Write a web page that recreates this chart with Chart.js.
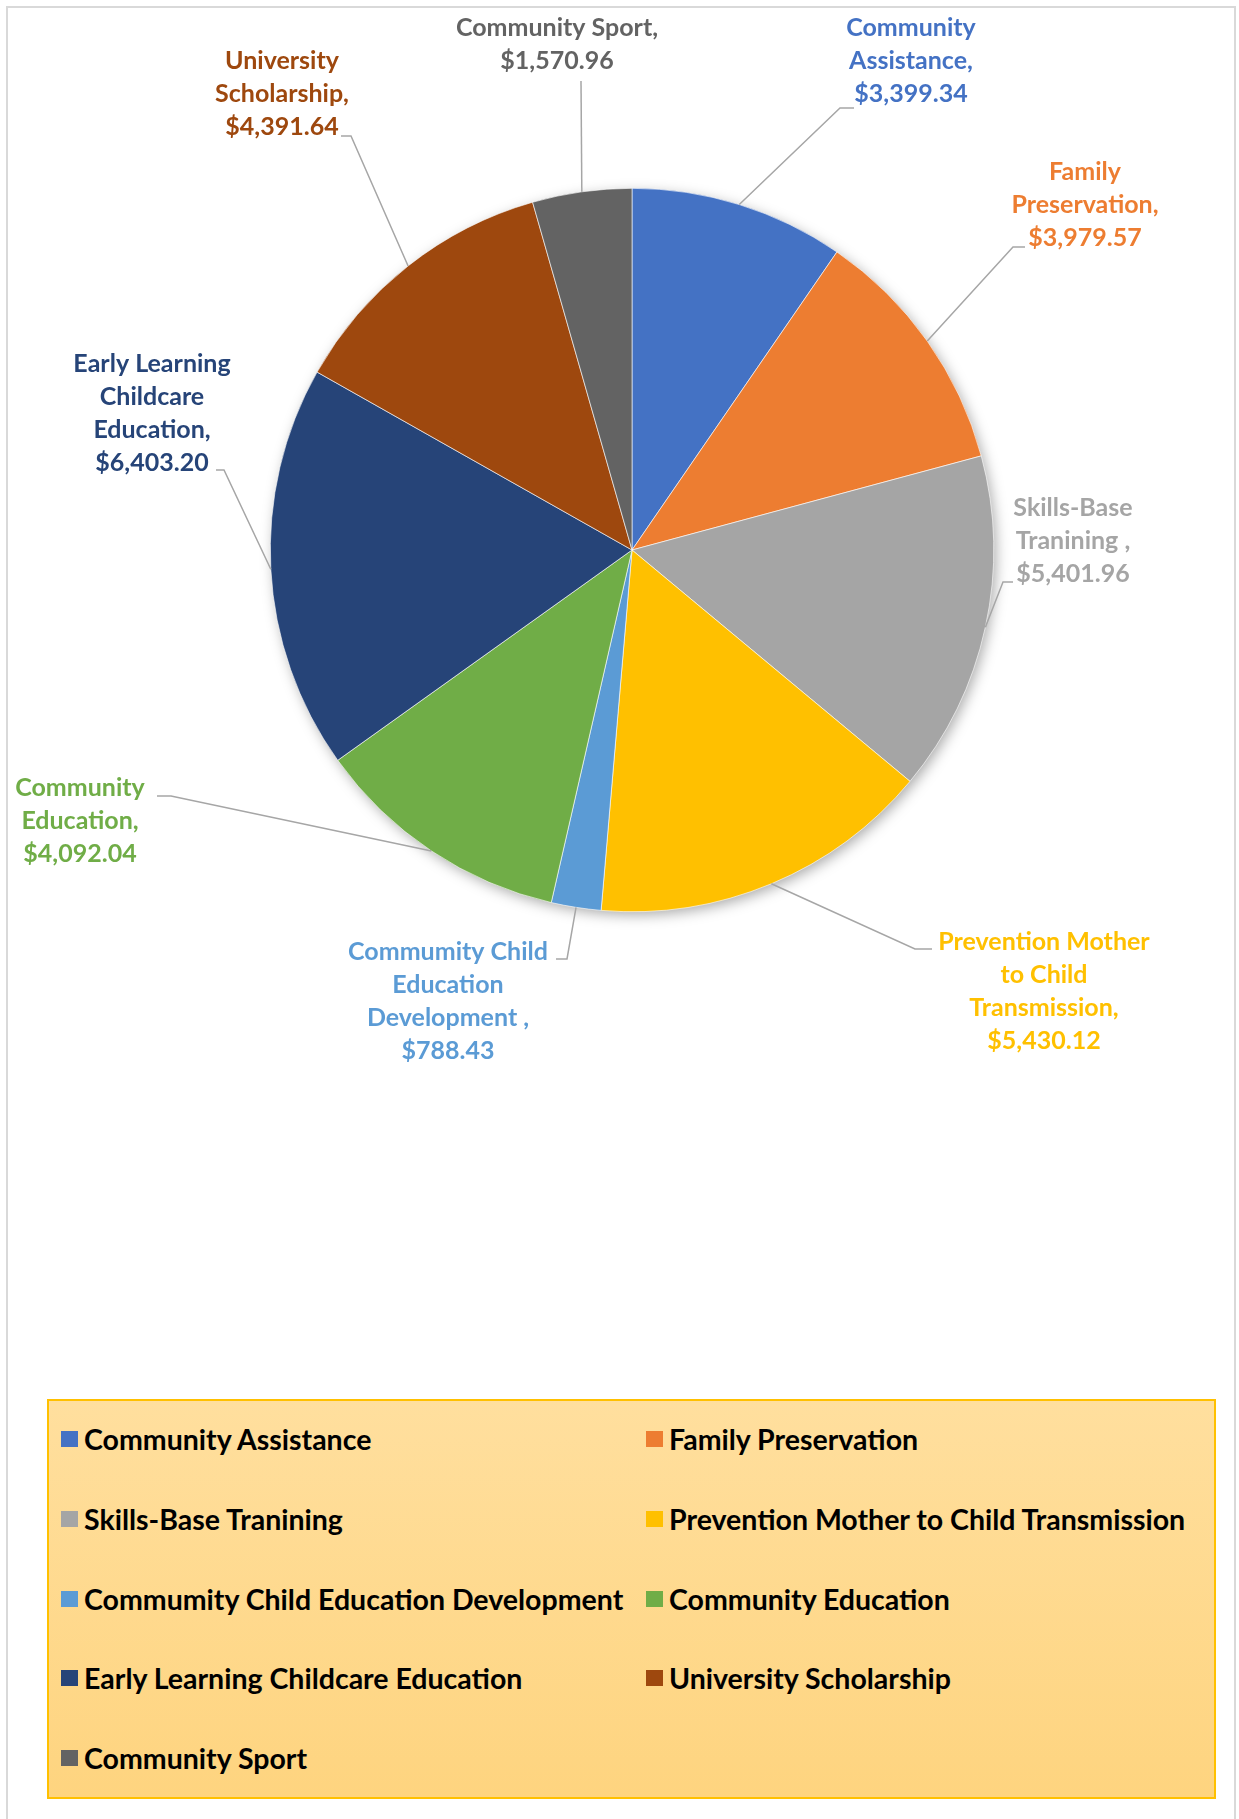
<!DOCTYPE html>
<html>
<head>
<meta charset="utf-8">
<script src="https://cdn.jsdelivr.net/npm/chart.js@4.4.1/dist/chart.umd.min.js"></script>
<style>
  html, body { margin: 0; padding: 0; background: #fff; }
  body { width: 1239px; height: 1819px; position: relative; overflow: hidden; font-family: Lato, 'Noto Sans', sans-serif; }
  #frame { position: absolute; left: 6px; top: 6px; width: 1230px; height: 1840px; border: 2px solid #d9d9d9; box-sizing: border-box; }
  #wrap { position: absolute; left: 0; top: 0; width: 1239px; height: 1100px; }
  #legend {
    position: absolute; left: 47px; top: 1399px; width: 1169px; height: 400px; box-sizing: border-box;
    border: 2px solid #ffc000; background: linear-gradient(#ffdf9e, #fed47f);
  }
  .item { position: absolute; height: 34px; display: flex; align-items: center; font-weight: 700; font-size: 28.5px; color: #000; white-space: nowrap; }
  .item span.box { width: 17px; height: 16px; margin-right: 6px; flex: none; }
</style>
</head>
<body>
<div id="frame"></div>
<div id="wrap"><canvas id="pie" width="1239" height="1100"></canvas></div>
<div id="legend"></div>
<script>
// data
const categories = [
    'Community Assistance',
    'Family Preservation',
    'Skills-Base Tranining',
    'Prevention Mother to Child Transmission',
    'Commumity Child Education Development',
    'Community Education',
    'Early Learning Childcare Education',
    'University Scholarship',
    'Community Sport'
];
const amounts = [3399.34, 3979.57, 5401.96, 5430.12, 788.43, 4092.04, 6403.20, 4391.64, 1570.96];
const sliceColors = ['#4472c4', '#ed7d31', '#a5a5a5', '#ffc000', '#5b9bd5', '#70ad47', '#264478', '#9e480e', '#636363'];

// how the category names wrap in the data labels
const labelWraps = [
    ['Community', 'Assistance,'],
    ['Family', 'Preservation,'],
    ['Skills-Base', 'Tranining ,'],
    ['Prevention Mother', 'to Child', 'Transmission,'],
    ['Commumity Child', 'Education', 'Development ,'],
    ['Community', 'Education,'],
    ['Early Learning', 'Childcare', 'Education,'],
    ['University', 'Scholarship,'],
    ['Community Sport,']
];

// label placement relative to the pie centre (px): text centre / first line, leader elbow, stub end
const labelLayout = [
    { tx: 279, ty: -522, ex: 208, ey: -442, sx: 222 },
    { tx: 453, ty: -378, ex: 381, ey: -303, sx: 393 },
    { tx: 441, ty: -42, ex: 371, ey: 32, sx: 381 },
    { tx: 412, ty: 392, ex: 283, ey: 399, sx: 300 },
    { tx: -184, ty: 402, ex: -65, ey: 409, sx: -76 },
    { tx: -552, ty: 238, ex: -461, ey: 246, sx: -475 },
    { tx: -480, ty: -186, ex: -408, ey: -80, sx: -416 },
    { tx: -350, ty: -489, ex: -281, ey: -414, sx: -291 },
    { tx: -75, ty: -522, ex: -51, ey: -469, sx: -51 }
];

const money = v => '$' + v.toLocaleString('en-US', { minimumFractionDigits: 2, maximumFractionDigits: 2 });

const calloutPlugin = {
    id: 'callouts',
    beforeDatasetsDraw(chart) {
        // soft shadow under the whole pie
        const ctx = chart.ctx;
        const p = chart.getDatasetMeta(0).data[0].getProps(['x', 'y', 'outerRadius'], true);
        ctx.save();
        ctx.shadowColor = 'rgba(0,0,0,0.35)';
        ctx.shadowBlur = 14;
        ctx.shadowOffsetX = 3;
        ctx.shadowOffsetY = 4;
        ctx.beginPath();
        ctx.arc(p.x, p.y, p.outerRadius - 1, 0, Math.PI * 2);
        ctx.fillStyle = '#fff';
        ctx.fill();
        ctx.restore();
    },
    afterDatasetsDraw(chart) {
        const ctx = chart.ctx;
        const ds = chart.data.datasets[0];
        chart.getDatasetMeta(0).data.forEach((arc, i) => {
            const p = arc.getProps(['x', 'y', 'startAngle', 'endAngle', 'outerRadius'], true);
            const mid = (p.startAngle + p.endAngle) / 2;
            const L = labelLayout[i];
            const ax = p.x + Math.cos(mid) * p.outerRadius;
            const ay = p.y + Math.sin(mid) * p.outerRadius;

            // leader line
            ctx.save();
            ctx.strokeStyle = '#a6a6a6';
            ctx.lineWidth = 1.5;
            ctx.beginPath();
            ctx.moveTo(ax, ay);
            ctx.lineTo(p.x + L.ex, p.y + L.ey);
            ctx.lineTo(p.x + L.sx, p.y + L.ey);
            ctx.stroke();

            // label text
            const lines = labelWraps[i].concat([money(ds.data[i])]);
            ctx.fillStyle = ds.backgroundColor[i];
            ctx.font = 'bold 25px Lato, "Noto Sans", sans-serif';
            ctx.textAlign = 'center';
            ctx.textBaseline = 'middle';
            lines.forEach((t, k) => ctx.fillText(t, p.x + L.tx, p.y + L.ty + k * 33));
            ctx.restore();
        });
    }
};

const chart = new Chart(document.getElementById('pie'), {
    type: 'pie',
    data: {
        labels: categories,
        datasets: [{
            data: amounts,
            backgroundColor: sliceColors,
            borderColor: '#ffffff',
            borderWidth: 0.6,
            hoverOffset: 0
        }]
    },
    options: {
        responsive: false,
        animation: false,
        layout: { padding: { left: 270, right: 245, top: 188, bottom: 188 } },
        plugins: {
            legend: { display: false },
            tooltip: { enabled: false }
        }
    },
    plugins: [calloutPlugin]
});

// legend in two columns, built from the chart's own labels
const legendEl = document.getElementById('legend');
const legendRows = [40, 120, 200, 279, 359];
const legendCols = [12, 597];
chart.data.labels.forEach((name, i) => {
    const item = document.createElement('div');
    item.className = 'item';
    item.style.left = legendCols[i % 2] + 'px';
    item.style.top = (legendRows[Math.floor(i / 2)] - 2 - 17) + 'px';
    const box = document.createElement('span');
    box.className = 'box';
    box.style.background = chart.data.datasets[0].backgroundColor[i];
    item.appendChild(box);
    item.appendChild(document.createTextNode(name));
    legendEl.appendChild(item);
});
</script>
</body>
</html>
